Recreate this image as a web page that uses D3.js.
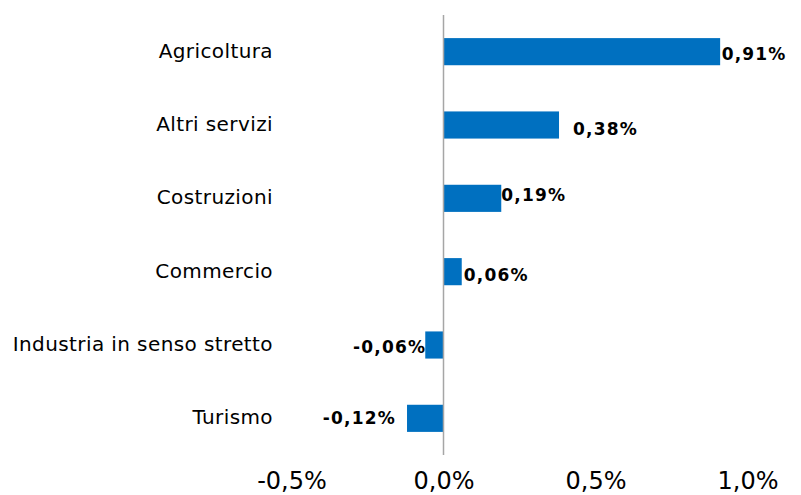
<!DOCTYPE html>
<html>
<head>
<meta charset="utf-8">
<script src="https://cdn.jsdelivr.net/npm/d3@7"></script>
<style>
  body { margin: 0; background: #fff; }
  svg { display: block; }
</style>
</head>
<body>
<svg width="801" height="495"></svg>
<script>
// data
var categories = ["Agricoltura", "Altri servizi", "Costruzioni", "Commercio", "Industria in senso stretto", "Turismo"];
var values = [0.91, 0.38, 0.19, 0.06, -0.06, -0.12];
var xTicks = [-0.5, 0, 0.5, 1.0];

// small label nudges (px) to mimic the original label placement
var labelDx = [1.5, 14, 0, 2, 1, -11];
var labelDy = [2, 3.5, -3.5, 3.5, 2, 0];

var svg = d3.select("svg");

var it = d3.formatLocale({decimal: ",", thousands: ".", grouping: [3], currency: ["", " €"], minus: "-"});
var fmtTick = it.format(".1f");
var fmtLab = it.format(".2f");

var x = d3.scaleLinear().domain([-0.5, 1.0]).range([291.5, 747.5]);
var y = d3.scaleBand().domain(categories).range([15, 455]).paddingInner(0.63).paddingOuter(0.315);

var rows = categories.map(function(c, i) { return {cat: c, v: values[i], i: i}; });

svg.append("g")
    .selectAll("rect")
    .data(rows)
    .enter().append("rect")
    .attr("x", function(d) { return x(Math.min(0, d.v)); })
    .attr("y", function(d) { return y(d.cat); })
    .attr("width", function(d) { return Math.abs(x(d.v) - x(0)); })
    .attr("height", y.bandwidth())
    .attr("fill", "#0070C0");

// zero line
svg.append("line")
    .attr("x1", x(0)).attr("x2", x(0))
    .attr("y1", 15).attr("y2", 455)
    .attr("stroke", "#A6A6A6")
    .attr("stroke-width", 1.5);

// category labels
svg.append("g")
    .selectAll("text")
    .data(rows)
    .enter().append("text")
    .attr("x", 273)
    .attr("y", function(d) { return y(d.cat) + y.bandwidth() / 2 + 6; })
    .attr("text-anchor", "end")
    .style("font-family", "DejaVu Sans, sans-serif")
    .style("font-size", "20px")
    .style("letter-spacing", "0.4px")
    .attr("fill", "#000")
    .text(function(d) { return d.cat; });

// value labels
svg.append("g")
    .selectAll("text")
    .data(rows)
    .enter().append("text")
    .attr("x", function(d) { return x(d.v) + labelDx[d.i]; })
    .attr("y", function(d) { return y(d.cat) + y.bandwidth() / 2 + 6 + labelDy[d.i]; })
    .attr("text-anchor", function(d) { return d.v < 0 ? "end" : "start"; })
    .style("font-family", "DejaVu Sans, sans-serif")
    .style("font-size", "17px")
    .style("font-weight", "bold")
    .style("letter-spacing", "1.2px")
    .attr("fill", "#000")
    .text(function(d) { return fmtLab(d.v) + "%"; });

// x axis
var xAxis = svg.append("g")
    .attr("transform", "translate(0,455)")
    .call(d3.axisBottom(x).tickValues(xTicks).tickSize(0).tickPadding(17)
      .tickFormat(function(d) { return fmtTick(d) + "%"; }));
xAxis.select(".domain").remove();
xAxis.selectAll("text")
    .style("font-family", "DejaVu Sans, sans-serif")
    .style("font-size", "24px")
    .attr("fill", "#000");
</script>
</body>
</html>
